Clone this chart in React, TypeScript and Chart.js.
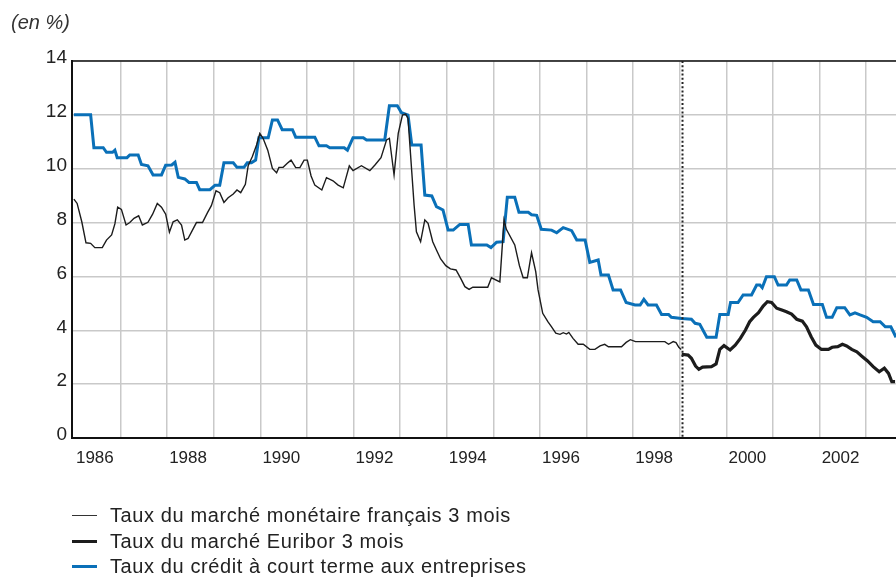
import React, { useEffect, useRef } from 'react';
import { Chart, registerables } from 'chart.js';

Chart.register(...registerables);

// ---------- data (decimal years, %) ----------
const frTimes = [
  1986.00, 1986.07, 1986.17, 1986.26, 1986.36, 1986.45, 1986.61, 1986.70, 1986.81, 1986.88, 1986.94,
  1987.02, 1987.12, 1987.20, 1987.29, 1987.39, 1987.47, 1987.59, 1987.69, 1987.79, 1987.88, 1987.97,
  1988.05, 1988.13, 1988.22, 1988.31, 1988.38, 1988.45, 1988.63, 1988.76, 1988.87, 1988.95,
  1989.05, 1989.13, 1989.22, 1989.31, 1989.42, 1989.50, 1989.58, 1989.68, 1989.74, 1989.83, 1989.92, 1989.99,
  1990.06, 1990.16, 1990.26, 1990.35, 1990.40, 1990.49, 1990.58, 1990.66, 1990.76, 1990.85, 1990.94,
  1991.01, 1991.09, 1991.17, 1991.32, 1991.42, 1991.56, 1991.67, 1991.78, 1991.91, 1991.99,
  1992.17, 1992.35, 1992.46, 1992.59, 1992.71, 1992.77, 1992.87, 1992.96,
  1993.05, 1993.12, 1993.17, 1993.25, 1993.30, 1993.35, 1993.44, 1993.53, 1993.60, 1993.70, 1993.78, 1993.87, 1993.98,
  1994.08, 1994.20, 1994.30, 1994.39, 1994.48, 1994.56, 1994.88, 1994.96,
  1995.14, 1995.23, 1995.28, 1995.46, 1995.56, 1995.64, 1995.73, 1995.82, 1995.91, 1995.96,
  1996.06, 1996.17, 1996.25, 1996.34, 1996.43, 1996.50, 1996.57, 1996.62, 1996.71, 1996.82, 1996.93,
  1997.07, 1997.18, 1997.29, 1997.39, 1997.47, 1997.75, 1997.85, 1997.94,
  1998.05, 1998.68, 1998.76, 1998.86, 1998.92, 1998.98, 1999.03,
];
const frValues = [
  8.87, 8.71, 8.03, 7.25, 7.23, 7.07, 7.07, 7.35, 7.54, 7.95, 8.57,
  8.49, 7.91, 8.00, 8.16, 8.25, 7.91, 8.01, 8.31, 8.71, 8.57, 8.31,
  7.64, 8.03, 8.10, 7.91, 7.35, 7.41, 8.00, 8.00, 8.38, 8.63,
  9.18, 9.11, 8.75, 8.92, 9.06, 9.21, 9.11, 9.42, 10.11, 10.45, 10.88, 11.31,
  11.13, 10.69, 10.01, 9.85, 10.05, 10.05, 10.20, 10.32, 10.04, 10.04, 10.32,
  10.32, 9.73, 9.39, 9.21, 9.67, 9.55, 9.39, 9.29, 10.11, 9.93,
  10.11, 9.93, 10.14, 10.41, 11.07, 11.13, 9.77, 11.31,
  11.99, 12.03, 11.87, 9.89, 8.65, 7.66, 7.29, 8.10, 7.97, 7.29, 6.98, 6.65, 6.40,
  6.28, 6.24, 5.93, 5.62, 5.52, 5.60, 5.60, 5.95,
  5.80, 8.10, 7.75, 7.17, 6.40, 5.95, 5.95, 6.88, 6.18, 5.50,
  4.63, 4.32, 4.13, 3.89, 3.85, 3.91, 3.86, 3.92, 3.70, 3.48, 3.48,
  3.29, 3.29, 3.42, 3.48, 3.39, 3.39, 3.55, 3.65,
  3.58, 3.58, 3.48, 3.58, 3.54, 3.37, 3.29,
];

const euTimes = [
  1999.04, 1999.18, 1999.25, 1999.34, 1999.41, 1999.49, 1999.68, 1999.78, 1999.86, 1999.95,
  2000.08, 2000.19, 2000.30, 2000.41, 2000.50, 2000.58, 2000.69, 2000.79, 2000.88, 2000.97,
  2001.08, 2001.19, 2001.29, 2001.40, 2001.51, 2001.63, 2001.72, 2001.82, 2001.92,
  2002.04, 2002.19, 2002.27, 2002.39, 2002.49, 2002.58, 2002.69, 2002.80, 2002.92,
  2003.03, 2003.15, 2003.28, 2003.39, 2003.48, 2003.55, 2003.62,
];
const euValues = [
  3.11, 3.08, 2.96, 2.67, 2.55, 2.63, 2.65, 2.75, 3.29, 3.43,
  3.27, 3.45, 3.70, 4.01, 4.32, 4.48, 4.65, 4.90, 5.06, 5.03,
  4.82, 4.75, 4.69, 4.60, 4.41, 4.34, 4.13, 3.76, 3.45,
  3.29, 3.29, 3.37, 3.39, 3.48, 3.42, 3.29, 3.20, 3.02,
  2.86, 2.65, 2.46, 2.59, 2.40, 2.09, 2.09,
];

const crTimes = [
  1986.00, 1986.36, 1986.43, 1986.63, 1986.70, 1986.83, 1986.88, 1986.93,
  1987.14, 1987.20, 1987.38, 1987.45, 1987.59, 1987.70, 1987.88, 1987.97,
  1988.10, 1988.17, 1988.24, 1988.38, 1988.47, 1988.63, 1988.70, 1988.92,
  1989.03, 1989.13, 1989.22, 1989.42, 1989.50, 1989.65, 1989.72, 1989.81, 1989.90, 1989.97,
  1990.17, 1990.26, 1990.37, 1990.47, 1990.69, 1990.76,
  1991.17, 1991.26, 1991.42, 1991.49, 1991.80, 1991.87, 1991.99,
  1992.21, 1992.28, 1992.67, 1992.77, 1992.94,
  1993.03, 1993.17, 1993.25, 1993.45, 1993.53, 1993.68, 1993.78, 1993.92,
  1994.03, 1994.14, 1994.28, 1994.46, 1994.53, 1994.86, 1994.95,
  1995.07, 1995.21, 1995.30, 1995.46, 1995.55, 1995.75, 1995.82, 1995.93,
  1996.03, 1996.25, 1996.36, 1996.50, 1996.68, 1996.79, 1996.97,
  1997.07, 1997.25, 1997.31, 1997.47, 1997.57, 1997.73, 1997.85,
  1998.04, 1998.15, 1998.23, 1998.32, 1998.50, 1998.61, 1998.76, 1998.82,
  1999.04, 1999.25, 1999.33, 1999.43, 1999.58, 1999.78, 1999.86,
  2000.04, 2000.09, 2000.25, 2000.36, 2000.54, 2000.65, 2000.72, 2000.77, 2000.86,
  2001.03, 2001.11, 2001.29, 2001.36, 2001.51, 2001.60, 2001.76, 2001.87,
  2002.06, 2002.15, 2002.27, 2002.37, 2002.54, 2002.65, 2002.76, 2002.87,
  2003.01, 2003.15, 2003.30, 2003.41, 2003.53, 2003.64,
];
const crValues = [
  12.00, 12.00, 10.78, 10.78, 10.61, 10.61, 10.69, 10.41,
  10.41, 10.51, 10.51, 10.16, 10.11, 9.77, 9.77, 10.13,
  10.14, 10.24, 9.68, 9.62, 9.49, 9.49, 9.22, 9.22,
  9.39, 9.39, 10.22, 10.22, 10.05, 10.05, 10.22, 10.22, 10.32, 11.15,
  11.15, 11.81, 11.81, 11.45, 11.45, 11.17,
  11.17, 10.85, 10.85, 10.78, 10.78, 10.69, 11.15,
  11.15, 11.07, 11.07, 12.34, 12.34,
  12.08, 11.99, 10.88, 10.88, 9.02, 8.99, 8.59, 8.47,
  7.72, 7.72, 7.93, 7.93, 7.17, 7.17, 7.07,
  7.27, 7.29, 8.94, 8.94, 8.38, 8.38, 8.29, 8.27,
  7.75, 7.72, 7.62, 7.81, 7.70, 7.35, 7.35,
  6.52, 6.61, 6.05, 6.05, 5.50, 5.50, 5.03,
  4.94, 4.94, 5.15, 4.94, 4.94, 4.59, 4.59, 4.48,
  4.44, 4.41, 4.26, 4.22, 3.74, 3.74, 4.59,
  4.59, 5.03, 5.03, 5.31, 5.31, 5.68, 5.68, 5.58, 5.99,
  5.99, 5.68, 5.68, 5.87, 5.87, 5.50, 5.50, 4.96,
  4.96, 4.48, 4.48, 4.84, 4.84, 4.57, 4.65, 4.57,
  4.48, 4.32, 4.32, 4.13, 4.13, 3.74,
];

const gridYears = [1986, 1987, 1988, 1989, 1990, 1991, 1992, 1993, 1994, 1995, 1996, 1997, 1998, 1999, 2000, 2001, 2002, 2003];
const labelYears = [1986, 1988, 1990, 1992, 1994, 1996, 1998, 2000, 2002];
const yTicks = [0, 2, 4, 6, 8, 10, 12, 14];
const euroStart = 1999.04;

const seriesLabels = [
  'Taux du marché monétaire français 3 mois',
  'Taux du marché Euribor 3 mois',
  'Taux du crédit à court terme aux entreprises',
];

const FONT = '"Liberation Sans", Arial, Helvetica, sans-serif';
const BLUE = '#0a70b8';
const BLACK = '#1c1c1c';
const GRID = '#c9c9c9';

const toPts = (ts: number[], vs: number[]) => ts.map((t, i) => ({ x: t, y: vs[i] }));

const overlay = {
  id: 'overlay',
  beforeDatasetsDraw(chart: any) {
    const { ctx, chartArea } = chart;
    ctx.save();
    ctx.strokeStyle = '#111';
    ctx.lineWidth = 1.5;
    ctx.beginPath();
    ctx.moveTo(chartArea.left, chartArea.top);
    ctx.lineTo(chartArea.right, chartArea.top);
    ctx.stroke();
    ctx.restore();
  },
  afterDatasetsDraw(chart: any) {
    const { ctx, chartArea, scales } = chart;
    const x = Math.round(scales.x.getPixelForValue(euroStart)) + 0.5;
    ctx.save();
    ctx.strokeStyle = '#222';
    ctx.lineWidth = 2;
    ctx.setLineDash([2, 2.2]);
    ctx.beginPath();
    ctx.moveTo(x, chartArea.top);
    ctx.lineTo(x, chartArea.bottom);
    ctx.stroke();
    ctx.restore();
  },
};

export default function App() {
  const ref = useRef<HTMLCanvasElement>(null);

  useEffect(() => {
    if (!ref.current) return;
    const chart = new Chart(ref.current, {
      type: 'line',
      data: {
        datasets: [
          {
            label: seriesLabels[0],
            data: toPts(frTimes, frValues),
            borderColor: BLACK,
            borderWidth: 1.4,
            pointRadius: 0,
            tension: 0,
          },
          {
            label: seriesLabels[1],
            data: toPts(euTimes, euValues),
            borderColor: BLACK,
            borderWidth: 3.2,
            pointRadius: 0,
            tension: 0,
          },
          {
            label: seriesLabels[2],
            data: toPts(crTimes, crValues),
            borderColor: BLUE,
            borderWidth: 3,
            pointRadius: 0,
            tension: 0,
          },
        ],
      },
      options: {
        animation: false,
        responsive: false,
        maintainAspectRatio: false,
        layout: { padding: { top: 61, left: 0, right: 0, bottom: 0 } },
        plugins: { legend: { display: false }, tooltip: { enabled: false } },
        scales: {
          x: {
            type: 'linear',
            min: 1985.96,
            max: 2003.64,
            afterBuildTicks: (s: any) => {
              s.ticks = gridYears.map((v) => ({ value: v }));
            },
            afterFit: (s: any) => {
              s.height = 139;
            },
            grid: {
              color: (c: any) => (c.tick && c.tick.value === 1986 ? 'rgba(0,0,0,0)' : GRID),
              lineWidth: 1.5,
              drawTicks: false,
            },
            border: { color: '#111', width: 2 },
            ticks: {
              autoSkip: false,
              maxRotation: 0,
              minRotation: 0,
              labelOffset: 21,
              padding: 10,
              color: '#222',
              font: { family: FONT, size: 17 },
              callback: (v: any) => (labelYears.includes(Number(v)) ? String(v) : ''),
            },
          },
          y: {
            min: 0,
            max: 14,
            afterBuildTicks: (s: any) => {
              s.ticks = yTicks.map((v) => ({ value: v }));
            },
            afterFit: (s: any) => {
              s.width = 72;
            },
            grid: { color: GRID, lineWidth: 1.5, drawTicks: false },
            border: { color: '#111', width: 2 },
            ticks: {
              padding: 5,
              labelOffset: -3,
              color: '#222',
              font: { family: FONT, size: 19 },
              callback: (v: any) => String(v),
            },
          },
        },
      },
      plugins: [overlay],
    } as any);
    return () => chart.destroy();
  }, []);

  const legendStyles = [
    { h: 1, c: '#333' },
    { h: 3, c: BLACK },
    { h: 3, c: BLUE },
  ];

  return (
    <div style={{ position: 'absolute', left: 0, top: 0, width: 896, height: 577, background: '#fff', overflow: 'hidden' }}>
      <canvas ref={ref} width={896} height={577} style={{ position: 'absolute', left: 0, top: 0, width: 896, height: 577 }} />
      <div
        style={{
          position: 'absolute',
          left: 11,
          top: 10,
          fontFamily: FONT,
          fontStyle: 'italic',
          fontSize: 20,
          lineHeight: '24px',
          color: '#333',
        }}
      >
        (en %)
      </div>
      <div style={{ position: 'absolute', left: 72, top: 503, fontFamily: FONT, fontSize: 20, letterSpacing: 0.6, color: '#222' }}>
        {seriesLabels.map((lab, i) => (
          <div key={lab} style={{ display: 'flex', alignItems: 'center', height: 25.5, whiteSpace: 'nowrap' }}>
            <span style={{ display: 'inline-block', width: 25, height: legendStyles[i].h, background: legendStyles[i].c, marginRight: 13 }} />
            <span>{lab}</span>
          </div>
        ))}
      </div>
    </div>
  );
}
